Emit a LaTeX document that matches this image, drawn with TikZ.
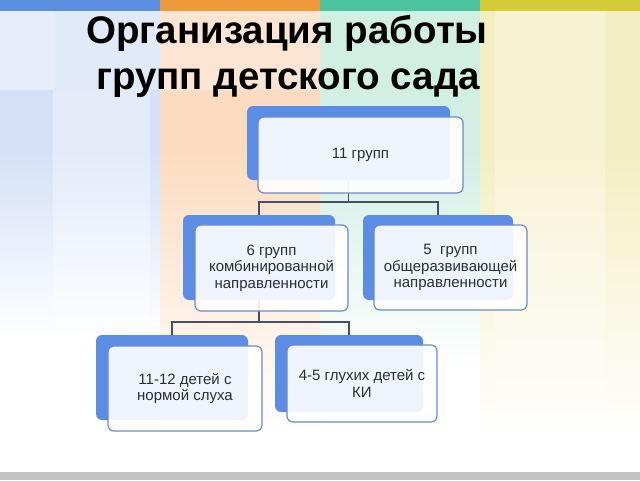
\documentclass[tikz,border=0pt]{standalone}
\usepackage{fontspec}
\setmainfont{Liberation Sans}
\usetikzlibrary{positioning,backgrounds,calc}
\definecolor{barblue}{HTML}{5B8FE2}
\definecolor{barorange}{HTML}{F09A3E}
\definecolor{bargreen}{HTML}{4CC4A0}
\definecolor{baryellow}{HTML}{D6CC3A}
\definecolor{paleblue}{HTML}{D4E1F7}
\definecolor{paleorange}{HTML}{FBDCC0}
\definecolor{palegreen}{HTML}{D2EFE4}
\definecolor{paleyellow}{HTML}{F3EFC2}
\definecolor{boxblue}{HTML}{5B8DE4}
\definecolor{boxedge}{HTML}{6E89C6}
\definecolor{linkgray}{HTML}{44506A}
\definecolor{textgray}{HTML}{2E2E2E}
\definecolor{footgray}{HTML}{C3C3C3}

\begin{document}
\begin{tikzpicture}[x=1pt,y=-1pt]
    \tikzstyle{every node}=[inner sep=0,outer sep=0]
    \tikzstyle{back}=[rectangle,rounded corners=6,fill=boxblue]
    \tikzstyle{front}=[rectangle,rounded corners=6,draw=boxedge,line width=1.2,fill=white,fill opacity=0.9,text opacity=1,text=textgray,align=center,font=\fontsize{15}{16.5}\selectfont]
    \tikzstyle{title}=[anchor=base,font=\fontsize{38.5}{46}\selectfont\bfseries]
    \tikzstyle{elbow}=[to path={-- ++(0,22) -| (\tikztotarget)}]
    \tikzstyle{link}=[draw=linkgray,line width=1.1]

    \useasboundingbox (0,0) rectangle (640,480);

    \node[title] (title1) at (287,43) {Организация работы};
    \node[title] (title2) at (288,89) {групп детского сада};

    \node[back,minimum width=203,minimum height=74] (b11) at (348.5,143) {};
    \node[front,minimum width=205,minimum height=76] (f11) at ([shift={(12,12)}]b11) {11 групп};

    \node[back,minimum width=152,minimum height=85] (bcombi) at (259,257.5) {};
    \node[front,minimum width=153,minimum height=86] (fcombi) at ([shift={(12.5,10.5)}]bcombi) {6 групп\\комбинированной\\направленности};

    \node[back,minimum width=150,minimum height=85] (bgen) at (438,257.5) {};
    \node[front,minimum width=153,minimum height=85] (fgen) at ([shift={(12.5,10)}]bgen) {5~ групп\\общеразвивающей\\направленности};

    \node[back,minimum width=152,minimum height=85] (bhear) at (172,377.5) {};
    \node[front,minimum width=154,minimum height=85] (fhear) at ([shift={(13,11)}]bhear) {11-12 детей с\\нормой слуха};

    \node[back,minimum width=148,minimum height=77] (bdeaf) at (349,373.5) {};
    \node[front,minimum width=150,minimum height=77] (fdeaf) at ([shift={(13,10)}]bdeaf) {4-5 глухих детей с\\КИ};

    \begin{scope}[on background layer]
        \foreach \x/\bar/\pale/\fade in {0/barblue/paleblue/340,160/barorange/paleorange/430,320/bargreen/palegreen/370,480/baryellow/paleyellow/440}{
            \fill[\bar] (\x,0) rectangle ++(160,11);
            \fill[\pale] (\x,11) rectangle ++(160,139);
            \shade[top color=\pale,bottom color=white] (\x,150) rectangle (\x+160,\fade);
        }
        \fill[white,opacity=0.45] (0,11) rectangle (55,90);
        \fill[white,opacity=0.3] (55,11) rectangle (160,90);
        \fill[white,opacity=0.35] (53,90) rectangle (150,340);
        \fill[white,opacity=0.3] (160,11) rectangle (320,90);
        \fill[white,opacity=0.3] (495,11) rectangle (605,440);
        \fill[footgray] (0,472) rectangle (640,480);

        \path[link] (b11.south) edge[elbow] (bcombi.north)
                    (b11.south) edge[elbow] (bgen.north)
                    (bcombi.south) edge[elbow] (bhear.north)
                    (bcombi.south) edge[elbow] (bdeaf.north);
    \end{scope}
\end{tikzpicture}
\end{document}
